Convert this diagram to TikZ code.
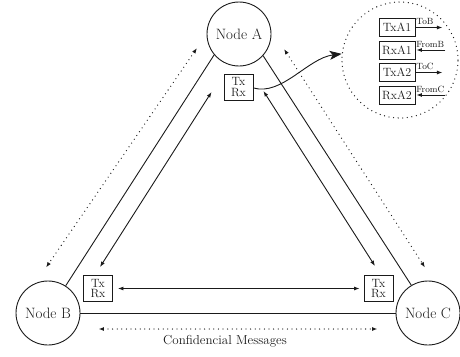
\documentclass[tikz,border=0pt]{standalone}
\usetikzlibrary{arrows.meta}
\definecolor{ink}{HTML}{1A1A1A}
\begin{document}
\begin{tikzpicture}[x=1pt,y=-1pt,
  line width=0.9pt, draw=ink, color=ink,
  peer/.style={circle, draw, minimum size=64pt, inner sep=0pt,
    font=\fontsize{15}{17}\selectfont},
  trx/.style={draw, align=center, inner sep=0.5pt, minimum width=29pt,
    minimum height=26pt, font=\fontsize{12}{10.8}\selectfont},
  portbox/.style={draw, inner sep=1pt, minimum width=36pt, minimum height=18pt,
    font=\fontsize{12}{14}\selectfont},
  lbl/.style={inner sep=0.5pt, font=\fontsize{9}{10}\selectfont},
  tip/.style={-{Latex[length=5.5pt,width=4pt]}},
  both/.style={{Latex[length=5.5pt,width=4pt]}-{Latex[length=5.5pt,width=4pt]}},
  dots/.style={dash pattern=on 0pt off 4.6pt, line cap=round, line width=1.3pt},
]
\useasboundingbox (0,0) rectangle (460,356);

% the three peers
\node[peer] (A) at (239,34) {Node A};
\node[peer] (B) at (48,313) {Node B};
\node[peer] (C) at (428,313) {Node C};

% transceivers
\node[trx] (txa) at (238.5,87) {Tx\\Rx};
\node[trx] (txb) at (98,288.5) {Tx\\Rx};
\node[trx] (txc) at (378.5,288.5) {Tx\\Rx};

% physical links
\draw (A.220) -- (B.57);
\draw (A.318) -- (C.121);
\draw (B.east) -- (C.west);

% transceiver exchanges
\draw[both] ([shift={(-12,5)}]txa.west) -- ([shift={(2,-8)}]txb.north);
\draw[both] ([shift={(10,4)}]txa.east) -- ([shift={(-3.5,-9)}]txc.north);
\draw[both] ([xshift=5pt]txb.east) -- ([xshift=-4pt]txc.west);

% confidential channels
\draw[both, dots] ([shift={(-42,14)}]A.center) -- ([shift={(-2,-13)}]B.north);
\draw[both, dots] ([shift={(45,15)}]A.center) -- ([shift={(-3,-13)}]C.north);
\draw[both, dots] ([shift={(18,16)}]B.east) -- ([shift={(-18,16)}]C.west);
\node[font=\fontsize{13}{15}\selectfont] (cm) at (225,341) {Confidencial Messages};

% detail of the transceiver of Node A
\node[circle, draw, dots, minimum size=116pt, inner sep=0pt] (zc) at (400,60) {};
\draw[-{Stealth[length=12pt,width=9pt,inset=3pt]}]
  ([yshift=-1pt]txa.east) .. controls (282,96) and (308,58) .. (zc.174);

\node[portbox] (t1) at (397,27.5) {TxA1};
\node[portbox] (r1) at (397,50) {RxA1};
\node[portbox] (t2) at (397,72.5) {TxA2};
\node[portbox] (r2) at (397,95) {RxA2};

\draw[tip] (t1.east) -- ([xshift=27pt]t1.east);
\draw[tip] ([xshift=30pt]r1.east) -- ([xshift=1pt]r1.east);
\draw[tip] (t2.east) -- ([xshift=27pt]t2.east);
\draw[tip] ([xshift=30pt]r2.east) -- ([xshift=1pt]r2.east);

\node[lbl, anchor=south west] (l1) at ([yshift=1.5pt]t1.east) {ToB};
\node[lbl, anchor=south west] (l2) at ([yshift=1.5pt]r1.east) {FromB};
\node[lbl, anchor=south west] (l3) at ([yshift=1.5pt]t2.east) {ToC};
\node[lbl, anchor=south west] (l4) at ([yshift=1.5pt]r2.east) {FromC};
\end{tikzpicture}
\end{document}
